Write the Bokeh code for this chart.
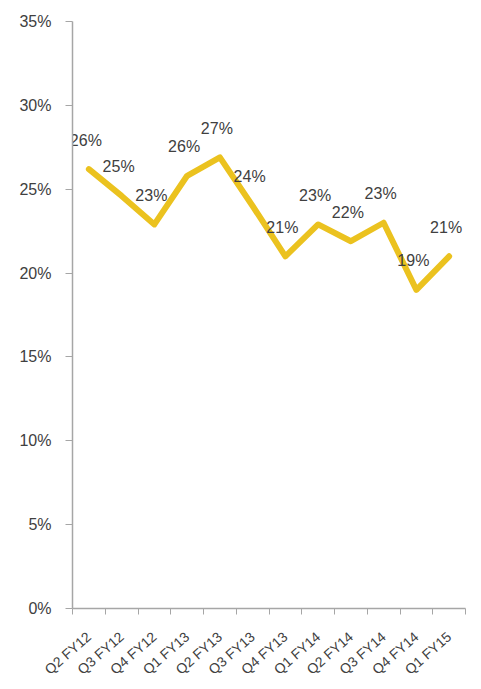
import numpy as np
from bokeh.plotting import figure
from bokeh.models import FixedTicker, PrintfTickFormatter, ColumnDataSource, Range1d
from bokeh.core.properties import value
from bokeh.embed import file_html
from bokeh.resources import INLINE

quarters = ["Q2 FY12", "Q3 FY12", "Q4 FY12", "Q1 FY13", "Q2 FY13", "Q3 FY13",
            "Q4 FY13", "Q1 FY14", "Q2 FY14", "Q3 FY14", "Q4 FY14", "Q1 FY15"]
share = [26.2, 24.6, 22.9, 25.8, 26.9, 24.0, 21.0, 22.9, 21.9, 23.0, 19.0, 21.0]
y_ticks = [0, 5, 10, 15, 20, 25, 30, 35]

x = np.arange(len(quarters)) + 0.5
labels = [f"{round(v)}%" for v in share]
src = ColumnDataSource(dict(x=x, y=share, label=labels))

p = figure(frame_width=393, frame_height=587, output_backend="svg", toolbar_location=None,
           x_range=Range1d(0, len(quarters)), y_range=Range1d(0, 35),
           min_border_left=72, min_border_right=5, min_border_top=21,
           min_border_bottom=0)
p.outline_line_color = None
p.xgrid.visible = False
p.ygrid.visible = False

p.line("x", "y", source=src, line_color="#EBC21F", line_width=6,
       line_join="round", line_cap="round")
p.text("x", "y", text="label", source=src, x_offset=-3, y_offset=-29,
       text_align="center", text_baseline="middle",
       text_font=value("Liberation Sans"), text_font_size="16px",
       text_color="#404040")

axis_color = "#A6A6A6"
yax = p.yaxis[0]
yax.ticker = FixedTicker(ticks=y_ticks)
yax.formatter = PrintfTickFormatter(format="%d%%")
yax.axis_line_color = axis_color
yax.axis_line_width = 1.5
yax.major_tick_line_color = axis_color
yax.major_tick_out = 7
yax.major_tick_in = 0
yax.minor_tick_line_color = None
yax.major_label_standoff = 14
yax.major_label_text_font = "Liberation Sans"
yax.major_label_text_font_size = "16px"
yax.major_label_text_color = "#404040"

xax = p.xaxis[0]
xax.ticker = FixedTicker(ticks=list(x), minor_ticks=list(range(len(quarters) + 1)))
xax.major_label_overrides = {float(xi): q for xi, q in zip(x, quarters)}
xax.major_label_orientation = 0.72
xax.axis_line_color = axis_color
xax.axis_line_width = 1.5
xax.major_tick_line_color = None
xax.major_tick_out = 0
xax.minor_tick_line_color = axis_color
xax.minor_tick_out = 6
xax.minor_tick_in = 0
xax.major_label_standoff = 20
xax.major_label_text_font = "Liberation Sans"
xax.major_label_text_font_size = "14px"
xax.major_label_text_color = "#404040"

open("out.html", "w").write(file_html(p, INLINE))
